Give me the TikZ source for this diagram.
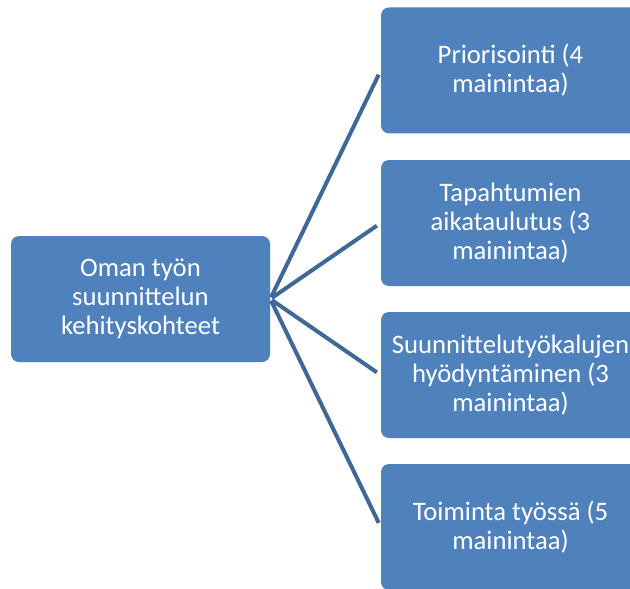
\documentclass[tikz,border=0pt]{standalone}
\usepackage{fontspec}
\setmainfont{Carlito}
\usepackage{xcolor}
\usetikzlibrary{shapes.geometric}
\definecolor{boxblue}{HTML}{4F81BD}
\definecolor{lineblue}{HTML}{3F6797}
\tikzstyle{blockl} = [rectangle, rounded corners=6pt, fill=boxblue, text=white, align=center, minimum width=194.25pt, minimum height=94.5pt, font=\fontsize{20}{21.6}\selectfont]
\tikzstyle{blockr} = [blockl]
\tikzstyle{line} = [draw=lineblue, line width=3pt, shorten <=1.5pt, shorten >=3.5pt]

\begin{document}
\begin{tikzpicture}[node distance=277.5pt, auto]
\useasboundingbox (0,0) rectangle (472.5pt,-441pt);
\clip (0,0) rectangle (472.5pt,-441pt);

\node [blockl] (O) at (105.375pt,-224.25pt) {Oman työn\\suunnittelun\\kehityskohteet};
\node [blockr, right of=O, yshift=171.4pt] (P) {Priorisointi (4\\mainintaa)};
\node [blockr, right of=O, yshift=57pt] (T) {Tapahtumien\\aikataulutus (3\\mainintaa)};
\node [blockr, right of=O, yshift=-57pt] (S) {Suunnittelutyökalujen\\hyödyntäminen (3\\mainintaa)};
\node [blockr, right of=O, yshift=-171pt] (W) {Toiminta työssä (5\\mainintaa)};

\path [line] (O.east) -- (P.west);
\path [line] (O.east) -- (T.west);
\path [line] (O.east) -- (S.west);
\path [line] (O.east) -- (W.west);

\end{tikzpicture}
\end{document}
